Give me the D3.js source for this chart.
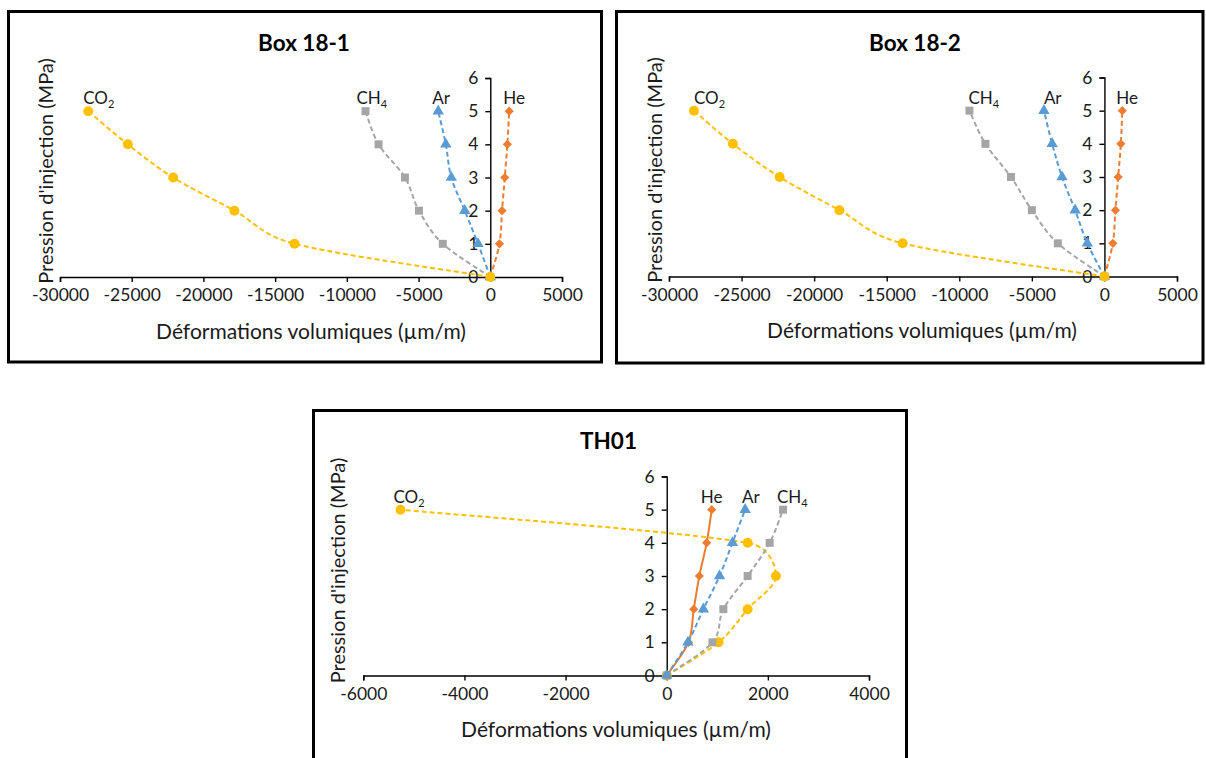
<!DOCTYPE html>
<html><head><meta charset="utf-8">
<script src="https://cdn.jsdelivr.net/npm/d3@7"></script>
<style>
body{margin:0;background:#fff;}
svg{display:block;font-family:Lato,"Open Sans",sans-serif;}
</style></head>
<body><svg id="c" width="1206" height="758"></svg>
<script>
// ---------- data ----------
const pressures = [0, 1, 2, 3, 4, 5];
const seriesNames = ["He", "Ar", "CH4", "CO2"];
const chartTitles = ["Box 18-1", "Box 18-2", "TH01"];
const xTitle = "Déformations volumiques (µm/m)";
const yTitle = "Pression d'injection (MPa)";
const boxXTicks = [-30000, -25000, -20000, -15000, -10000, -5000, 0, 5000];
const th01XTicks = [-6000, -4000, -2000, 0, 2000, 4000];
const yTicks = [0, 1, 2, 3, 4, 5, 6];

const box181_He  = [0, 640, 820, 1010, 1190, 1320];
const box181_Ar  = [0, -860, -1780, -2720, -3100, -3630];
const box181_CH4 = [0, -3310, -4970, -5950, -7790, -8700];
const box181_CO2 = [0, -13650, -17840, -22110, -25270, -28030];

const box182_He  = [0, 580, 760, 945, 1130, 1230];
const box182_Ar  = [0, -1180, -2020, -2920, -3600, -4170];
const box182_CH4 = [0, -3210, -5000, -6440, -8200, -9300];
const box182_CO2 = [0, -13900, -18260, -22380, -25600, -28280];

const th01_He  = [0, 430, 535, 645, 790, 890];
const th01_Ar  = [0, 420, 725, 1045, 1300, 1550];
const th01_CH4 = [0, 905, 1120, 1600, 2035, 2300];
const th01_CO2 = [0, 1025, 1600, 2160, 1600, -5265];

// ---------- styles / layout ----------
const colors = {He: "#ED7D31", Ar: "#5B9BD5", CH4: "#A5A5A5", CO2: "#FFC000"};
const markerType = {He: "diamond", Ar: "triangle", CH4: "square", CO2: "circle"};
const textColor = "#1a1a1a";

const panels = [
  {title: chartTitles[0], data: {He: box181_He, Ar: box181_Ar, CH4: box181_CH4, CO2: box181_CO2},
   domain: [-30000, 5000], ticks: boxXTicks, frame: [8.5, 11.5, 601.5, 362],
   px: [60, 562], py: [277, 78], titlePos: [304, 43], xtPos: [311, 331], ytPos: [46, 171],
   labelDx: {He: -6, Ar: -6, CH4: -9, CO2: -5}, solid: [], order: ["He", "Ar", "CH4", "CO2"]},
  {title: chartTitles[1], data: {He: box182_He, Ar: box182_Ar, CH4: box182_CH4, CO2: box182_CO2},
   domain: [-30000, 5000], ticks: boxXTicks, frame: [616.5, 11.5, 1203, 363],
   px: [669, 1177], py: [276.5, 77.5], titlePos: [915, 43], xtPos: [922, 330], ytPos: [655, 170],
   labelDx: {He: -6, Ar: 0, CH4: -1, CO2: 0}, solid: [], order: ["He", "Ar", "CH4", "CO2"]},
  {title: chartTitles[2], data: {He: th01_He, Ar: th01_Ar, CH4: th01_CH4, CO2: th01_CO2},
   domain: [-6000, 4000], ticks: th01XTicks, frame: [313.5, 410.5, 906.5, 800],
   px: [363.3, 869], py: [675.5, 476.5], titlePos: [608.5, 440.5], xtPos: [616, 729], ytPos: [338, 570.5],
   labelDx: {He: -11, Ar: -3, CH4: -6, CO2: -7}, solid: ["He"], order: ["CO2", "CH4", "He", "Ar"]}
];

// Excel-like smoothed line: Catmull-Rom Bezier with control distance clamped to half the segment
function curveExcel(context) {
  let pts;
  const dist = (a, b) => Math.hypot(a[0] - b[0], a[1] - b[1]);
  return {
    areaStart() {}, areaEnd() {},
    lineStart() { pts = []; },
    point(x, y) { pts.push([+x, +y]); },
    lineEnd() {
      const n = pts.length;
      if (!n) return;
      context.moveTo(pts[0][0], pts[0][1]);
      for (let i = 0; i < n - 1; i++) {
        const p0 = pts[Math.max(i - 1, 0)], p1 = pts[i], p2 = pts[i + 1], p3 = pts[Math.min(i + 2, n - 1)];
        const seg = dist(p1, p2), d02 = dist(p0, p2), d13 = dist(p1, p3);
        let f1 = 1 / 6, f2 = 1 / 6;
        if (d02 > 0 && d02 / 6 > seg / 2) f1 = seg / (2 * d02);
        if (d13 > 0 && d13 / 6 > seg / 2) f2 = seg / (2 * d13);
        context.bezierCurveTo(
          p1[0] + (p2[0] - p0[0]) * f1, p1[1] + (p2[1] - p0[1]) * f1,
          p2[0] - (p3[0] - p1[0]) * f2, p2[1] - (p3[1] - p1[1]) * f2,
          p2[0], p2[1]);
      }
    }
  };
}

const svg = d3.select("#c");
svg.append("rect").attr("width", 1206).attr("height", 758).attr("fill", "#fff");

function symbolPath(type) {
  if (type === "circle") return d3.symbol(d3.symbolCircle, 78)();
  if (type === "square") return d3.symbol(d3.symbolSquare, 64)();
  if (type === "triangle") return d3.symbol(d3.symbolTriangle, 56)();
  return d3.symbol(d3.symbolSquare, 42)();
}

panels.forEach(p => {
  const g = svg.append("g");
  const [fx0, fy0, fx1, fy1] = p.frame;
  g.append("rect").attr("x", fx0).attr("y", fy0).attr("width", fx1 - fx0).attr("height", fy1 - fy0)
    .attr("fill", "#fff").attr("stroke", "#000").attr("stroke-width", 3);

  const x = d3.scaleLinear().domain(p.domain).range(p.px);
  const y = d3.scaleLinear().domain([0, 6]).range(p.py);

  // title
  g.append("text").attr("x", p.titlePos[0]).attr("y", p.titlePos[1]).attr("dy", "0.36em")
    .attr("text-anchor", "middle").attr("font-weight", "bold").attr("font-size", 22.5)
    .attr("fill", "#000").text(p.title);

  // axes
  const xAxis = d3.axisBottom(x).tickValues(p.ticks).tickSize(5).tickSizeOuter(5).tickPadding(7)
    .tickFormat(d => String(d));
  const yAxis = d3.axisLeft(y).tickValues(yTicks).tickSize(5).tickSizeOuter(5).tickPadding(7)
    .tickFormat(d => String(d));
  const gx = g.append("g").attr("transform", `translate(0,${y(0)})`).call(xAxis);
  const gy = g.append("g").attr("transform", `translate(${x(0)},0)`).call(yAxis);
  [gx, gy].forEach(a => {
    a.selectAll("path,line").attr("stroke", "#000").attr("stroke-width", 1.4);
    a.selectAll("text").attr("font-size", 17.5).attr("fill", textColor)
      .attr("font-family", "Lato, 'Open Sans', sans-serif");
  });

  // axis titles
  g.append("text").attr("x", p.xtPos[0]).attr("y", p.xtPos[1]).attr("dy", "0.36em")
    .attr("text-anchor", "middle").attr("font-size", 21).attr("fill", textColor).text(xTitle);
  g.append("text").attr("transform", `translate(${p.ytPos[0]},${p.ytPos[1]}) rotate(-90)`)
    .attr("dy", "0.36em").attr("text-anchor", "middle").attr("font-size", 20)
    .attr("fill", textColor).text(yTitle);

  // series
  p.order.forEach(name => {
    const vals = p.data[name];
    const pts = vals.map((v, i) => [x(v), y(pressures[i])]);
    const line = d3.line().curve(curveExcel);
    g.append("path").attr("d", line(pts)).attr("fill", "none")
      .attr("stroke", colors[name]).attr("stroke-width", 2)
      .attr("stroke-dasharray", p.solid.includes(name) ? null : "5,3");
    g.selectAll(null).data(pts).enter().append("path")
      .attr("d", symbolPath(markerType[name]))
      .attr("transform", d => `translate(${d[0]},${d[1]})` + (markerType[name] === "diamond" ? " rotate(45)" : ""))
      .attr("fill", colors[name]);
    // label near last point
    const last = pts[pts.length - 1];
    const t = g.append("text").attr("x", last[0] + p.labelDx[name]).attr("y", last[1] - 7)
      .attr("font-size", 17).attr("fill", textColor);
    if (name === "CO2" || name === "CH4") {
      t.append("tspan").text(name.slice(0, name.length - 1));
      t.append("tspan").attr("font-size", 11).attr("dy", 4).text(name.slice(-1));
    } else {
      t.text(name);
    }
  });
});
</script></body></html>
